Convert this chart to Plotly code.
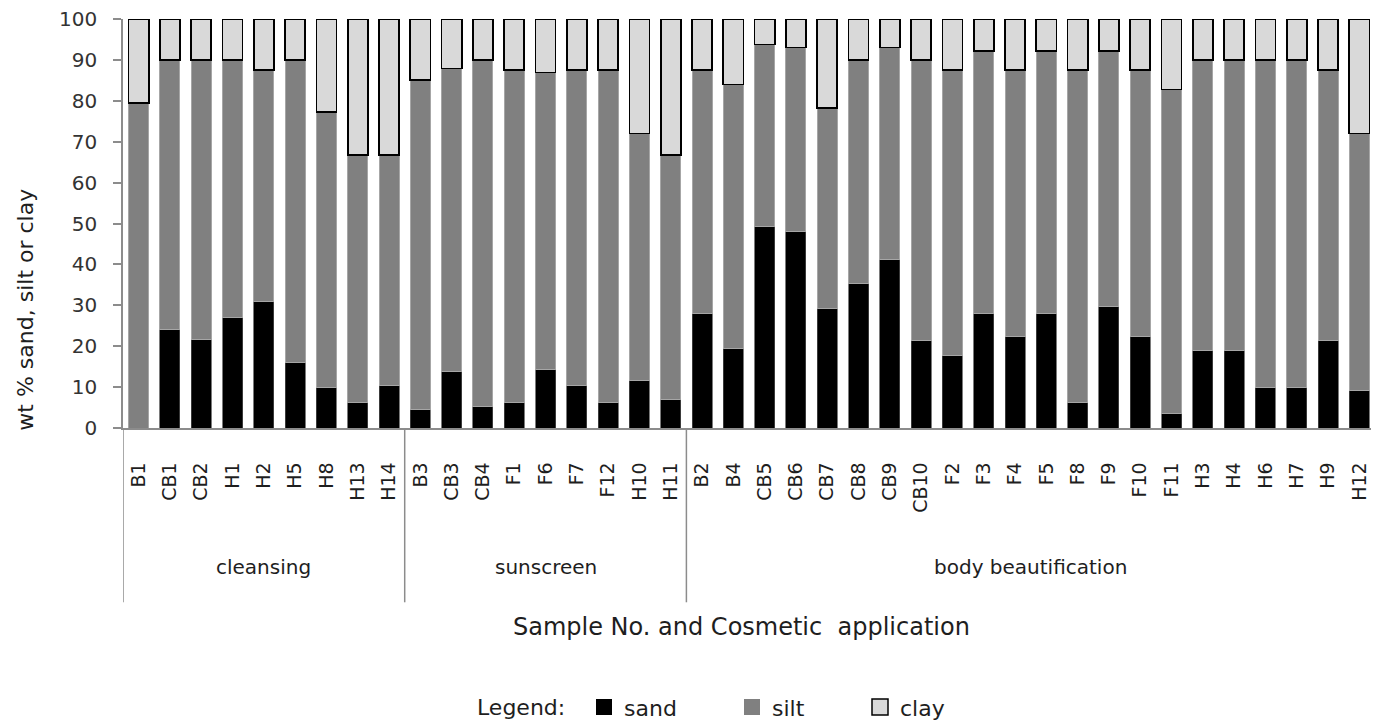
import plotly.graph_objects as go

# ---- data ----
samples = ["B1", "CB1", "CB2", "H1", "H2", "H5", "H8", "H13", "H14",
           "B3", "CB3", "CB4", "F1", "F6", "F7", "F12", "H10", "H11",
           "B2", "B4", "CB5", "CB6", "CB7", "CB8", "CB9", "CB10", "F2", "F3",
           "F4", "F5", "F8", "F9", "F10", "F11", "H3", "H4", "H6", "H7", "H9", "H12"]

groups = ["cleansing", "sunscreen", "body beautification"]
group_sizes = [9, 9, 22]

sand = [0.0, 24.0, 21.7, 26.9, 30.9, 16.0, 9.8, 6.3, 10.3,
        4.6, 13.8, 5.3, 6.3, 14.4, 10.3, 6.3, 11.6, 6.9,
        28.1, 19.5, 49.2, 48.1, 29.2, 35.4, 41.2, 21.3, 17.8, 28.1,
        22.3, 28.1, 6.3, 29.8, 22.3, 3.5, 18.9, 18.9, 9.8, 9.8, 21.3, 9.2]

silt = [79.4, 66.0, 68.3, 63.1, 56.6, 74.0, 67.4, 60.4, 56.4,
        80.5, 74.1, 84.7, 81.2, 72.5, 77.2, 81.2, 60.4, 59.8,
        59.4, 64.5, 44.6, 44.9, 49.1, 54.6, 51.8, 68.7, 69.7, 64.0,
        65.2, 64.0, 81.2, 62.3, 65.2, 79.3, 71.1, 71.1, 80.2, 80.2, 66.2, 62.8]

clay = [20.6, 10.0, 10.0, 10.0, 12.5, 10.0, 22.8, 33.3, 33.3,
        14.9, 12.1, 10.0, 12.5, 13.1, 12.5, 12.5, 28.0, 33.3,
        12.5, 16.0, 6.2, 7.0, 21.7, 10.0, 7.0, 10.0, 12.5, 7.9,
        12.5, 7.9, 12.5, 7.9, 12.5, 17.2, 10.0, 10.0, 10.0, 10.0, 12.5, 28.0]

y_ticks = [0, 10, 20, 30, 40, 50, 60, 70, 80, 90, 100]

# ---- styling ----
FONT = "DejaVu Sans"
TXT = "#1e1e1e"
AX = "#8c8c8c"
OFF = 8  # default page body margin
W, H = 1379 - OFF, 725 - OFF
L = 123 - OFF
R = W - (1375 - OFF)
T = 19 - OFF
B = H - (428.5 - OFF)
plot_h = H - T - B
plot_w = W - L - R

def py(ypix):
    # reference page pixel -> paper fraction
    return ((428.5 - OFF) - (ypix - OFF)) / plot_h

def px(xpix):
    return ((xpix - OFF) - L) / plot_w

series = [
    ("sand", sand, "#000000", "#4d4d4d", 0.75, "legend"),
    ("silt", silt, "#808080", "#a6a6a6", 1.0, "legend2"),
    ("clay", clay, "#d9d9d9", "#000000", 1.7, "legend3"),
]

fig = go.Figure()
for name, vals, col, lcol, lw, leg in series:
    fig.add_trace(go.Bar(
        x=samples, y=vals, name=name,
        marker=dict(color=col, line=dict(color=lcol, width=lw)),
        showlegend=False, cliponaxis=False,
    ))
# legend entries (large square swatches)
for name, vals, col, lcol, lw, leg in series:
    fig.add_trace(go.Scatter(
        x=[None], y=[None], mode="markers", name=name, legend=leg,
        marker=dict(symbol="square", size=16, color=col,
                    line=dict(color=lcol if name == "clay" else col,
                              width=1.5 if name == "clay" else 0)),
        showlegend=True,
    ))

# group dividers and labels
shapes = []
annotations = []
start = 0
bounds = [-0.5]
for g, n in zip(groups, group_sizes):
    center = start + (n - 1) / 2
    annotations.append(dict(x=center, xref="x", y=py(568), yref="paper",
                            text=g, showarrow=False, xanchor="center", yanchor="middle",
                            font=dict(family=FONT, size=20, color=TXT)))
    start += n
    bounds.append(start - 0.5)
for b in bounds:
    shapes.append(dict(type="line", xref="x", yref="paper", x0=b, x1=b,
                       y0=0, y1=py(603), line=dict(color=AX, width=1.5)))

annotations.append(dict(x=px(741), xref="paper", y=py(628), yref="paper",
                        text="Sample No. and Cosmetic&nbsp; application", showarrow=False,
                        xanchor="center", yanchor="middle",
                        font=dict(family=FONT, size=24, color=TXT)))
annotations.append(dict(x=px(26), xref="paper", y=py(310), yref="paper",
                        text="wt % sand, silt or clay", showarrow=False, textangle=-90,
                        xanchor="center", yanchor="middle",
                        font=dict(family=FONT, size=22, color=TXT)))
annotations.append(dict(x=px(475), xref="paper", y=py(708), yref="paper",
                        text="Legend:", showarrow=False, xanchor="left", yanchor="middle",
                        font=dict(family=FONT, size=22, color=TXT)))

leg_common = dict(orientation="h", xanchor="left", yanchor="middle", y=py(708),
                  bgcolor="rgba(0,0,0,0)", borderwidth=0,
                  font=dict(family=FONT, size=22, color=TXT))

fig.update_layout(
    width=W, height=H,
    margin=dict(l=L, r=R, t=T, b=B, pad=0, autoexpand=False),
    paper_bgcolor="white", plot_bgcolor="white",
    barmode="stack", bargap=0.36,
    font=dict(family=FONT, color=TXT),
    shapes=shapes, annotations=annotations,
    legend=dict(x=px(584), **leg_common),
    legend2=dict(x=px(732), **leg_common),
    legend3=dict(x=px(860), **leg_common),
    xaxis=dict(type="category", categoryorder="array", categoryarray=samples,
               range=[-0.5, len(samples) - 0.5], automargin=False,
               showline=True, linecolor=AX, linewidth=1.5, ticks="",
               tickangle=-90, tickfont=dict(family=FONT, size=19, color=TXT),
               ticklabelstandoff=25, ticklabeloverflow="allow",
               showgrid=False, zeroline=False),
    yaxis=dict(range=[0, 100], tickvals=y_ticks, showline=True, linecolor=AX, linewidth=1.5,
               automargin=False, ticklabeloverflow="allow",
               ticks="outside", ticklen=8, tickcolor=AX, tickwidth=1.5,
               tickfont=dict(family=FONT, size=20, color="#333333"),
               ticklabelstandoff=12, showgrid=False, zeroline=False),
)

fig.write_html("out.html")
